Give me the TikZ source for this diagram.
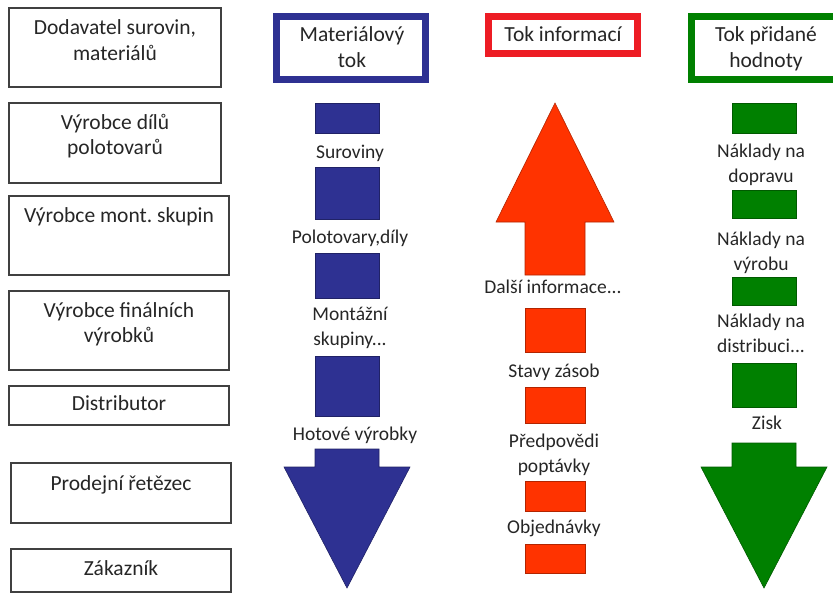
\documentclass[tikz,border=0pt]{standalone}
\usepackage{fontspec}
\setmainfont{Carlito}
\usepackage{xcolor}
\usepackage{tikz}
\usetikzlibrary{positioning}
\definecolor{flowblue}{RGB}{46,49,146}
\definecolor{flowred}{RGB}{255,51,0}
\definecolor{framered}{RGB}{237,28,36}
\definecolor{flowgreen}{RGB}{0,128,0}
\definecolor{textgray}{RGB}{38,38,38}
\definecolor{boxgray}{RGB}{64,64,64}

\begin{document}
\begin{tikzpicture}[x=1pt, y=-1pt,
  stagebox/.style={draw=boxgray, line width=1.2pt, anchor=north west, inner sep=0pt,
                   outer sep=0pt, minimum width=#1},
  stagebox/.default=212pt,
  bigtext/.style={text=textgray, align=center, anchor=base, inner sep=0pt,
                  font=\fontsize{21.5}{25}\selectfont},
  smalltext/.style={text=textgray, align=center, anchor=base, inner sep=0pt,
                    font=\fontsize{19.5}{25}\selectfont},
  headbox/.style={draw=#1, line width=7pt, fill=white, minimum width=149pt,
                  anchor=north west, inner sep=0pt, outer sep=0pt},
  blk/.style={fill=#1, draw=#1!70!black, line width=0.6pt, anchor=north,
              inner sep=0pt, outer sep=0pt},
  flowarrow/.style={fill=#1, draw=#1!70!black, line width=0.6pt}
]
\clip (0,0) rectangle (833,594);

% supply chain stages
\node[stagebox, minimum height=79pt] (s1) at (9,8) {};
\node[stagebox, minimum height=80pt] (s2) at (9,103) {};
\node[stagebox=220pt, minimum height=79pt] (s3) at (9,196) {};
\node[stagebox=220pt, minimum height=79pt] (s4) at (9,291) {};
\node[stagebox=220pt, minimum height=39pt] (s5) at (9,386) {};
\node[stagebox=220pt, minimum height=60pt] (s6) at (11,463) {};
\node[stagebox=220pt, minimum height=43pt] (s7) at (11,549) {};

% the base of a two-line text is its last line
\node[bigtext] (t1) at ([yshift=-52pt]s1.north) {Dodavatel surovin,\\materiálů};
\node[bigtext] (t2) at ([yshift=-51pt]s2.north) {Výrobce dílů\\polotovarů};
\node[bigtext] (t3) at ([yshift=-26pt]s3.north) {Výrobce mont.\ skupin};
\node[bigtext] (t4) at ([yshift=-51pt]s4.north) {Výrobce finálních\\výrobků};
\node[bigtext] (t5) at ([yshift=-24pt]s5.north) {Distributor};
\node[bigtext] (t6) at ([yshift=-27pt]s6.north) {Prodejní řetězec};
\node[bigtext] (t7) at ([yshift=-26pt]s7.north) {Zákazník};

% headers
\node[headbox=flowblue, minimum height=63pt] (hmat) at (276.5,16.5) {};
\node[headbox=framered, minimum height=37pt] (hinf) at (488.5,16.5) {};
\node[headbox=flowgreen, minimum height=63pt] (hval) at (691.5,16.5) {};
\node[bigtext] (hmatt) at (352,67) {Materiálový\\tok};
\node[bigtext] (hinft) at (563,42) {Tok informací};
\node[bigtext] (hvalt) at (766,67) {Tok přidané\\hodnoty};

% material flow
\node[blk=flowblue, minimum width=64pt, minimum height=30pt] (m1) at (347,103) {};
\node[blk=flowblue, minimum width=64pt, minimum height=52pt] (m2) at (347,167) {};
\node[blk=flowblue, minimum width=64pt, minimum height=45pt] (m3) at (347,253) {};
\node[blk=flowblue, minimum width=64pt, minimum height=60pt] (m4) at (347,356) {};
\filldraw[flowarrow=flowblue] (315,449) -- (379,449) -- (379,467) -- (410,467)
  -- (347,588) -- (284,467) -- (315,467) -- cycle;
\node[smalltext] (ml1) at (350,158) {Suroviny};
\node[smalltext] (ml2) at (350,243) {Polotovary,díly};
\node[smalltext] (ml3) at (350,345) {Montážní\\skupiny...};
\node[smalltext] (ml4) at (355,440) {Hotové výrobky};

% information flow
\filldraw[flowarrow=flowred] (525,275) -- (585,275) -- (585,222) -- (614,222)
  -- (555,103) -- (496,222) -- (525,222) -- cycle;
\node[blk=flowred, minimum width=60pt, minimum height=44pt] (i1) at (555,308) {};
\node[blk=flowred, minimum width=60pt, minimum height=36pt] (i2) at (555,387) {};
\node[blk=flowred, minimum width=60pt, minimum height=30pt] (i3) at (555,481) {};
\node[blk=flowred, minimum width=60pt, minimum height=29pt] (i4) at (555,544) {};
\node[smalltext] (il1) at (553,293) {Další informace...};
\node[smalltext] (il2) at (554,377) {Stavy zásob};
\node[smalltext] (il3) at (554,472) {Předpovědi\\poptávky};
\node[smalltext] (il4) at (554,533) {Objednávky};

% value flow
\node[blk=flowgreen, minimum width=64pt, minimum height=30pt] (v1) at (764,103) {};
\node[blk=flowgreen, minimum width=64pt, minimum height=28pt] (v2) at (764,190) {};
\node[blk=flowgreen, minimum width=64pt, minimum height=28pt] (v3) at (764,277) {};
\node[blk=flowgreen, minimum width=64pt, minimum height=44pt] (v4) at (764,363) {};
\filldraw[flowarrow=flowgreen] (732,443) -- (796,443) -- (796,467) -- (827,467)
  -- (764,588) -- (701,467) -- (732,467) -- cycle;
\node[smalltext] (vl1) at (761,182) {Náklady na\\dopravu};
\node[smalltext] (vl2) at (761,270) {Náklady na\\výrobu};
\node[smalltext] (vl3) at (761,352) {Náklady na\\distribuci...};
\node[smalltext] (vl4) at (767,429) {Zisk};
\end{tikzpicture}
\end{document}
